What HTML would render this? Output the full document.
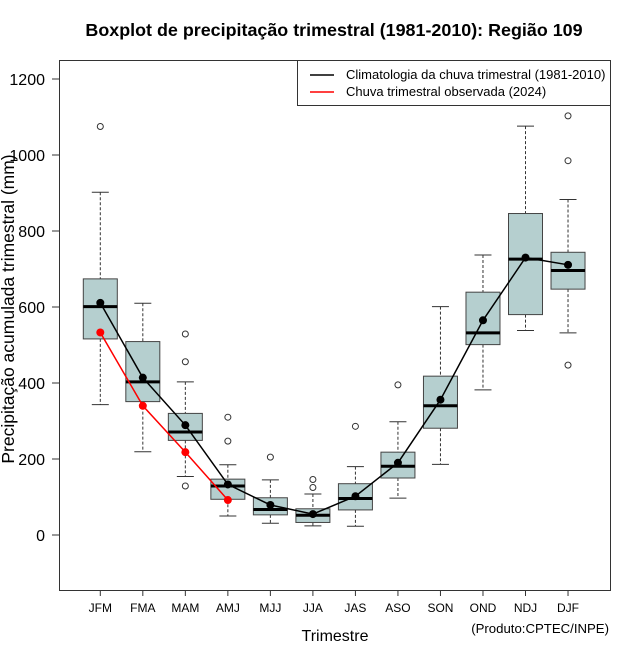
<!DOCTYPE html>
<html><head><meta charset="utf-8"><style>
body{margin:0;background:#fff;}
svg{display:block;font-family:"Liberation Sans",Arial,sans-serif;}
</style></head><body>
<svg id="chart" width="640" height="660" viewBox="0 0 640 660" xmlns="http://www.w3.org/2000/svg">
<text x="334" y="36" text-anchor="middle" font-size="17.9" font-weight="bold">Boxplot de precipitação trimestral (1981-2010): Região 109</text>
<rect x="59.5" y="60.5" width="551" height="530" fill="none" stroke="#333" stroke-width="1"/>
<g id="yaxis"></g>
<g id="xaxis"></g>
<g id="boxes"></g>
<g id="lines"></g>
<text transform="translate(14,309) rotate(-90)" text-anchor="middle" font-size="17.5">Precipitação acumulada trimestral (mm)</text>
<text x="335" y="641" text-anchor="middle" font-size="16">Trimestre</text>
<text x="609" y="633" text-anchor="end" font-size="13.2">(Produto:CPTEC/INPE)</text>
<g>
<rect x="297.5" y="60.5" width="313" height="45" fill="#fff" stroke="#333"/>
<line x1="310" y1="75" x2="334" y2="75" stroke="#000" stroke-width="1.5"/>
<text x="346" y="79" font-size="13">Climatologia da chuva trimestral (1981-2010)</text>
<line x1="310" y1="92" x2="334" y2="92" stroke="#f00" stroke-width="1.5"/>
<text x="346" y="96" font-size="13">Chuva trimestral observada (2024)</text>
</g>
</svg>
<script>
const categories=["JFM","FMA","MAM","AMJ","MJJ","JJA","JAS","ASO","SON","OND","NDJ","DJF"];
const whiskerLow=[343,219,154,50,31,24,23,97,186,382,538,532];
const q1=[516,351,249,94,53,33,66,150,281,501,580,647];
const medians=[601,403,271,129,67,52,96,181,340,532,726,696];
const q3=[674,509,320,147,98,69,135,218,418,639,846,744];
const whiskerHigh=[902,610,403,185,145,108,180,298,601,737,1076,883];
const outliers=[[1075],[],[529,456,129],[310,247],[205],[146,125],[286],[395],[],[],[],[1103,985,447]];
const climMean=[611,414,289,133,79,55,102,190,356,565,730,711];
const observed=[533,340,218,92];
const yTicks=[0,200,400,600,800,1000,1200];

const NS="http://www.w3.org/2000/svg";
function y(v){return 535-v*0.38;}
function x(i){return 100.3+i*42.52;}
function mk(parent,tag,attrs){const e=document.createElementNS(NS,tag);for(const k in attrs)e.setAttribute(k,attrs[k]);document.getElementById(parent).appendChild(e);return e;}

yTicks.forEach(t=>{
  const l=mk('yaxis','line',{x1:52,x2:59.5,y1:y(t),y2:y(t),stroke:'#333'});
  
  
  const tx=mk('yaxis','text',{x:45,y:y(t)+6,'text-anchor':'end','font-size':16});
  tx.textContent=t;
  
  
});
categories.forEach((c,i)=>{
  const l=mk('xaxis','line',{x1:x(i),x2:x(i),y1:590.5,y2:596,stroke:'#333'});
  
  
  const tx=mk('xaxis','text',{x:x(i),y:612,'text-anchor':'middle','font-size':12});
  tx.textContent=c;
  
  
  const cx=x(i),hw=17,cw=8.5;
  const g=mk('boxes','g',{});
  
  
  const add=(tag,a)=>{const e=document.createElementNS(NS,tag);for(const k in a)e.setAttribute(k,a[k]);g.appendChild(e);return e;};
  add('line',{x1:cx,x2:cx,y1:y(whiskerHigh[i]),y2:y(q3[i]),stroke:'#333','stroke-dasharray':'3,2'});
  add('line',{x1:cx,x2:cx,y1:y(q1[i]),y2:y(whiskerLow[i]),stroke:'#333','stroke-dasharray':'3,2'});
  add('line',{x1:cx-cw,x2:cx+cw,y1:y(whiskerHigh[i]),y2:y(whiskerHigh[i]),stroke:'#333'});
  add('line',{x1:cx-cw,x2:cx+cw,y1:y(whiskerLow[i]),y2:y(whiskerLow[i]),stroke:'#333'});
  add('rect',{x:cx-hw,y:y(q3[i]),width:2*hw,height:y(q1[i])-y(q3[i]),fill:'#b5cfcf',stroke:'#444'});
  add('line',{x1:cx-hw,x2:cx+hw,y1:y(medians[i]),y2:y(medians[i]),stroke:'#000','stroke-width':3});
  outliers[i].forEach(o=>add('circle',{cx:cx,cy:y(o),r:3,fill:'none',stroke:'#333'}));
});
const cl=mk('lines','polyline',{points:climMean.map((v,i)=>x(i)+','+y(v)).join(' '),fill:'none',stroke:'#000','stroke-width':1.5});


climMean.forEach((v,i)=>{const c=mk('lines','circle',{cx:x(i),cy:y(v),r:4,fill:'#000'});
  
  });
const ol=mk('lines','polyline',{points:observed.map((v,i)=>x(i)+','+y(v)).join(' '),fill:'none',stroke:'#f00','stroke-width':1.5});


observed.forEach((v,i)=>{const c=mk('lines','circle',{cx:x(i),cy:y(v),r:4,fill:'#f00'});
  
  });
</script>
</body></html>
